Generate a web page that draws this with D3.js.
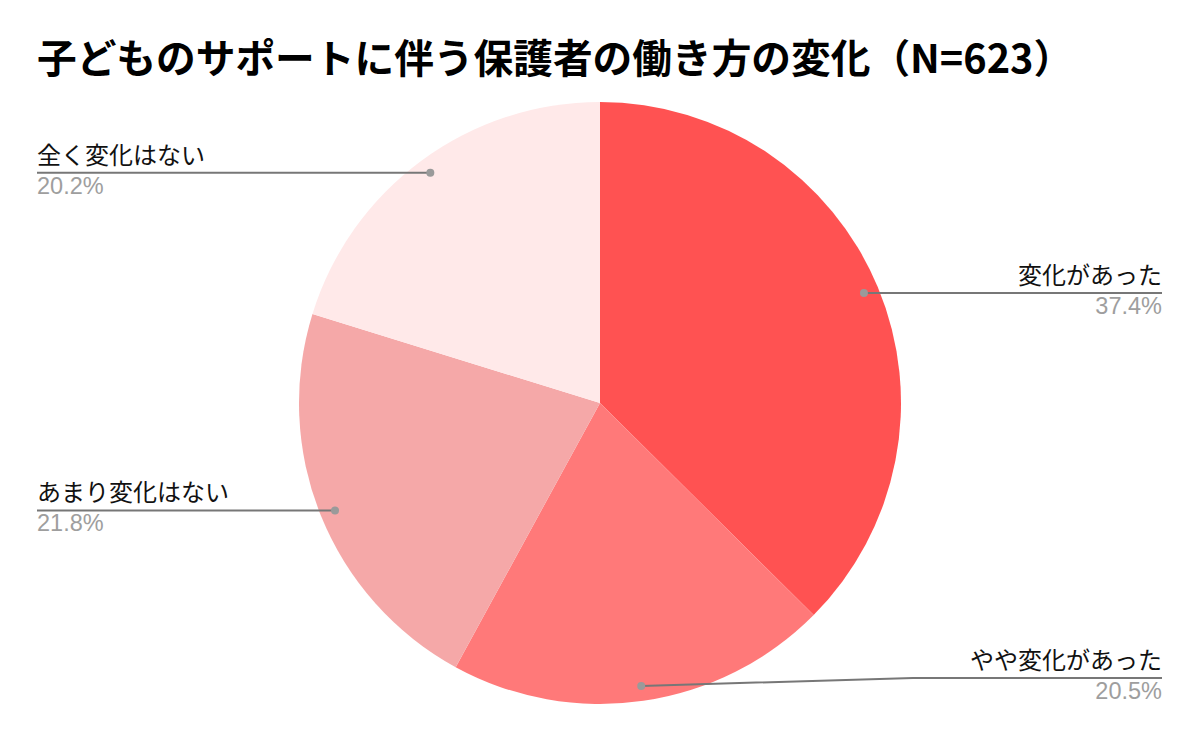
<!DOCTYPE html>
<html>
<head>
<meta charset="utf-8">
<script src="https://cdn.jsdelivr.net/npm/d3@7/dist/d3.min.js"></script>
<style>
  html, body { margin: 0; padding: 0; background: #fff; }
  svg { display: block; }
</style>
</head>
<body>
<svg id="chart" width="1200" height="742"></svg>
<script>
const title = "子どものサポートに伴う保護者の働き方の変化（N=623）";
const categories = ["変化があった", "やや変化があった", "あまり変化はない", "全く変化はない"];
const values = [37.4, 20.5, 21.8, 20.2];
const valueLabels = ["37.4%", "20.5%", "21.8%", "20.2%"];
const colors = ["#FF5252", "#FF7979", "#F5A8A8", "#FFE9E9"];

const W = 1200, H = 742;
const cx = 600, cy = 403, R = 301;
const dotR = R * 0.95;
const labelLeft = 37, labelRight = 1162;
const bottomLimit = 678;
const elbowX = 913;

const svg = d3.select("#chart");
const cjk = "'Noto Sans CJK JP', 'Noto Sans', sans-serif";
const latin = "'Liberation Sans', Arial, sans-serif";

svg.append("text")
  .attr("x", 37).attr("y", 73)
  .attr("font-family", cjk)
  .attr("font-weight", "bold")
  .attr("font-size", 39.7)
  .attr("fill", "#000")
  .text(title);

const data = categories.map((c, i) => ({ name: c, value: values[i], label: valueLabels[i], color: colors[i] }));
const pie = d3.pie().sort(null).value(d => d.value);
const arcs = pie(data);
const arc = d3.arc().innerRadius(0).outerRadius(R);

const g = svg.append("g").attr("transform", `translate(${cx},${cy})`);
g.selectAll("path").data(arcs).enter().append("path")
  .attr("d", arc)
  .attr("fill", d => d.data.color);

const dotArc = d3.arc().innerRadius(dotR).outerRadius(dotR);

arcs.forEach(a => {
  const [dx, dy] = dotArc.centroid(a);
  const px = cx + dx, py = cy + dy;
  const right = px >= cx;
  const ly = Math.min(py, bottomLimit);
  const endX = right ? labelRight : labelLeft;
  let pts;
  if (Math.abs(ly - py) > 0.5) {
    pts = [[px, py], [elbowX, ly], [endX, ly]];
  } else {
    pts = [[px, py], [endX, ly]];
  }
  svg.append("path")
    .attr("d", d3.line()(pts))
    .attr("fill", "none")
    .attr("stroke", "#777")
    .attr("stroke-width", 2);
  svg.append("circle")
    .attr("cx", px).attr("cy", py).attr("r", 4)
    .attr("fill", "#9a9a9a");
  svg.append("text")
    .attr("x", endX).attr("y", ly - 9)
    .attr("text-anchor", right ? "end" : "start")
    .attr("font-family", cjk)
    .attr("font-size", 24)
    .attr("fill", "#111")
    .text(a.data.name);
  svg.append("text")
    .attr("x", endX).attr("y", ly + 21)
    .attr("text-anchor", right ? "end" : "start")
    .attr("font-family", latin)
    .attr("font-size", 23.5)
    .attr("fill", "#9e9e9e")
    .text(a.data.label);
});
</script>
</body>
</html>
